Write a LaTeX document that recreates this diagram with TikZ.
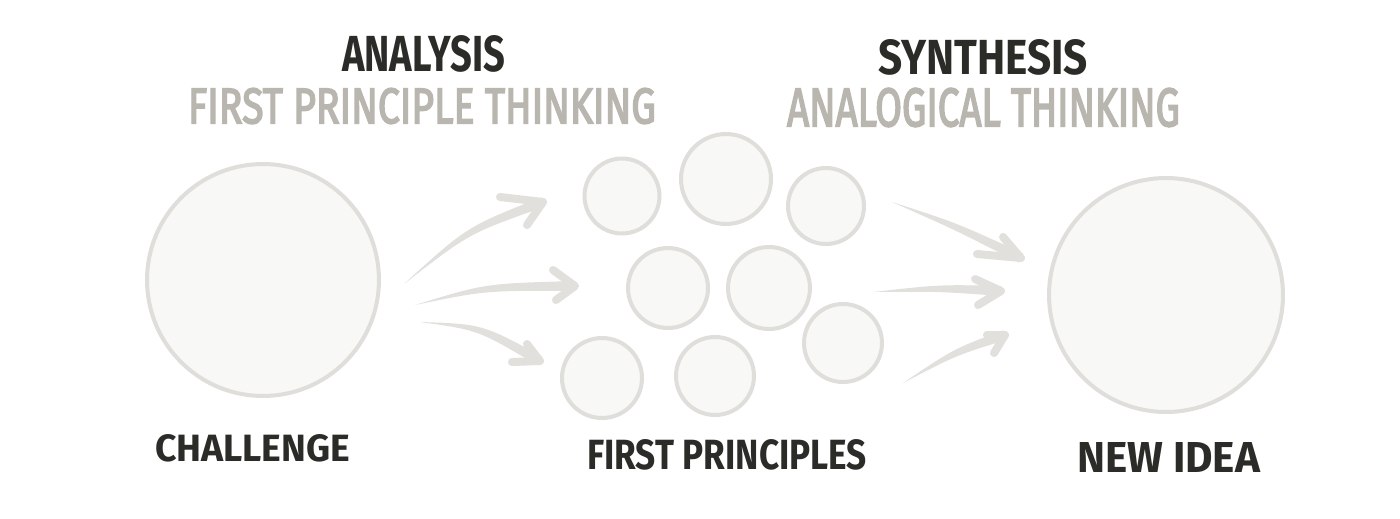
\documentclass[tikz,border=0pt]{standalone}
\usepackage{fontspec}
\setmainfont{Fira Sans}
\newfontfamily\grayfont{Fira Sans}[FakeBold=3.5]
\usepackage{graphicx}
\usetikzlibrary{calc}
\definecolor{circfill}{HTML}{F8F8F6}
\definecolor{circline}{HTML}{DFDEDB}
\definecolor{arrowcol}{HTML}{E1E0DC}
\definecolor{darktext}{HTML}{2B2B28}
\definecolor{graytext}{HTML}{B8B6AF}
\begin{document}
\begin{tikzpicture}[x=0.02cm,y=-0.02cm,
  bubble/.style={circle,draw=circline,fill=circfill,line width=0.08cm,inner sep=0pt,minimum size=#1},
  lbl/.style={inner sep=0pt,text=darktext,font=\bfseries},
  sublbl/.style={inner sep=0pt,text=graytext,font=\grayfont},
  barb/.style={draw=arrowcol,line width=0.16cm,line cap=round,line join=round}]
\fill[white] (0,0) rectangle (1400,518);
\useasboundingbox (0,0) rectangle (1400,518);
% big circles
\node[bubble=4.64cm] (challenge) at (263,280) {};
\node[bubble=4.68cm] (idea) at (1166,295) {};
% small circles
\node[bubble=1.5cm] (p1) at (622,196) {};
\node[bubble=1.8cm] (p2) at (726,179) {};
\node[bubble=1.52cm] (p3) at (826,206) {};
\node[bubble=1.6cm] (p4) at (668,288) {};
\node[bubble=1.64cm] (p5) at (769,288) {};
\node[bubble=1.56cm] (p6) at (843,343) {};
\node[bubble=1.6cm] (p7) at (602,378) {};
\node[bubble=1.56cm] (p8) at (715,376) {};
% labels
\node[lbl] (analysis) at (423.5,53.5) {\resizebox{3.26cm}{0.72cm}{ANALYSIS}};
\node[sublbl] (fpt) at (422,106) {\resizebox{9.36cm}{0.70cm}{FIRST PRINCIPLE THINKING}};
\node[lbl] (synthesis) at (983,57.5) {\resizebox{4.2cm}{0.70cm}{SYNTHESIS}};
\node[sublbl] (ant) at (983.5,107.5) {\resizebox{7.86cm}{0.76cm}{ANALOGICAL THINKING}};
\node[lbl] (chal) at (252.5,448.5) {\resizebox{3.9cm}{0.54cm}{CHALLENGE}};
\node[lbl] (fp) at (727,455) {\resizebox{5.6cm}{0.6cm}{FIRST PRINCIPLES}};
\node[lbl] (ni) at (1168.5,457) {\resizebox{3.66cm}{0.6cm}{NEW IDEA}};
% arrows: tail, control, end, upper barb, lower barb
\coordinate (a1-t) at (404,284); \coordinate (a1-c) at (468,230); \coordinate (a1-e) at (543,202);
\coordinate (a1-u) at (500,197); \coordinate (a1-l) at (527,225);
\coordinate (a2-t) at (415,305); \coordinate (a2-c) at (485,287); \coordinate (a2-e) at (575,286);
\coordinate (a2-u) at (553,270); \coordinate (a2-l) at (556,300);
\coordinate (a3-t) at (420,322); \coordinate (a3-c) at (480,327); \coordinate (a3-e) at (540,361);
\coordinate (a3-u) at (527,344); \coordinate (a3-l) at (512,362);
\coordinate (b1-t) at (892,202); \coordinate (b1-c) at (955,226); \coordinate (b1-e) at (1021,258);
\coordinate (b1-u) at (1003,237); \coordinate (b1-l) at (977,254);
\coordinate (b2-t) at (873,292); \coordinate (b2-c) at (940,288); \coordinate (b2-e) at (1001,291);
\coordinate (b2-u) at (975,279); \coordinate (b2-l) at (978,305);
\coordinate (b3-t) at (903,383); \coordinate (b3-c) at (955,352); \coordinate (b3-e) at (1005,335);
\coordinate (b3-u) at (987,335); \coordinate (b3-l) at (994,353);
\foreach \a in {a1,a2,a3,b1,b2,b3}{
  \fill[arrowcol] (\a-t) .. controls ($(\a-c)!0.07cm!90:(\a-e)$) .. ($(\a-e)!0.1cm!-90:(\a-c)$)
     -- ($(\a-e)!0.1cm!90:(\a-c)$) .. controls ($(\a-c)!0.07cm!-90:(\a-e)$) .. (\a-t) -- cycle;
  \draw[barb] (\a-u) -- (\a-e) -- (\a-l);
}
\end{tikzpicture}
\end{document}
